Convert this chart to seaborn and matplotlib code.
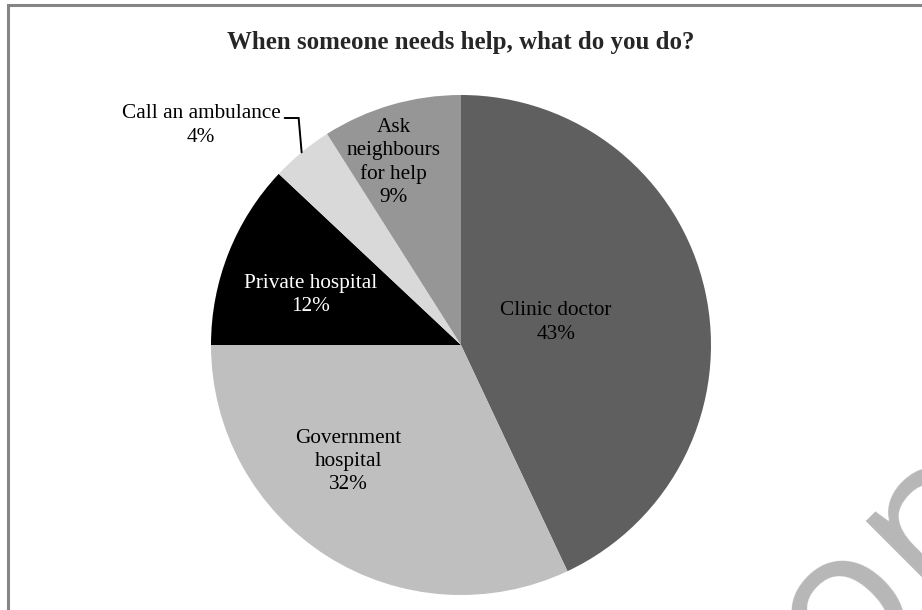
import matplotlib
matplotlib.use("Agg")
import matplotlib.pyplot as plt
import numpy as np
import seaborn as sns
from matplotlib.patches import Rectangle

# Survey responses, clockwise from 12 o'clock
categories = ["Clinic doctor", "Government\nhospital", "Private hospital",
              "Call an ambulance", "Ask\nneighbours\nfor help"]
shares = [43, 32, 12, 4, 9]
slice_colors = ["#5f5f5f", "#bfbfbf", "#000000", "#d9d9d9", "#969696"]
label_colors = ["black", "black", "white", "black", "black"]
title = "When someone needs help, what do you do?"

# Label anchors (pie-radius units); the small slice gets an outside callout
label_pos = [(0.38, 0.09), (-0.45, -0.465), (-0.60, 0.20), (-1.04, 0.878), (-0.27, 0.73)]
callout = [False, False, False, True, False]

sns.set_theme(style="white")
plt.rcParams["font.family"] = ["Liberation Serif", "DejaVu Serif"]

W, H = 922, 610
fig = plt.figure(figsize=(W / 100, H / 100), dpi=100)
fig.patch.set_facecolor("white")

# chart-area border (runs off the right and bottom edges)
fig.patches.append(Rectangle((7.5 / W, -0.1), 1.2, (H - 4.5) / H + 0.1,
                             transform=fig.transFigure, fill=False,
                             edgecolor="#858585", linewidth=2.2))

R = 250
cx, cy = 461, H - 345
ax = fig.add_axes([(cx - R) / W, (cy - R) / H, 2 * R / W, 2 * R / H])
wedges, _ = ax.pie(shares, colors=slice_colors, startangle=90, counterclock=False,
                   radius=1.0, wedgeprops=dict(linewidth=0))
ax.set_xlim(-1, 1)
ax.set_ylim(-1, 1)
ax.set_aspect("equal")
ax.axis("off")

fs = 15.3
for w, name, val, pos, tc, out in zip(wedges, categories, shares, label_pos,
                                      label_colors, callout):
    ax.text(pos[0], pos[1], f"{name}\n{val}%", ha="center", va="center",
            fontsize=fs, color=tc, linespacing=1.3, clip_on=False)
    if out:
        mid = np.deg2rad((w.theta1 + w.theta2) / 2)
        ex, ey = np.cos(mid), np.sin(mid)
        ax.plot([ex, ex - 0.012, ex - 0.068], [ey, 0.908, 0.908], color="black",
                lw=1.4, clip_on=False, solid_joinstyle="miter")

fig.text(cx / W, 1 - 42 / H, title, ha="center", va="center",
         fontsize=17.9, fontweight="bold")

# faint watermark in the lower-right corner
fig.text(857 / W, 1 - 600 / H, "con", rotation=45, ha="center", va="center",
         fontsize=150, color="#b7b7b7", family=["Open Sans", "DejaVu Sans"],
         zorder=0)

fig.savefig("out.png", dpi=100, facecolor="white")
